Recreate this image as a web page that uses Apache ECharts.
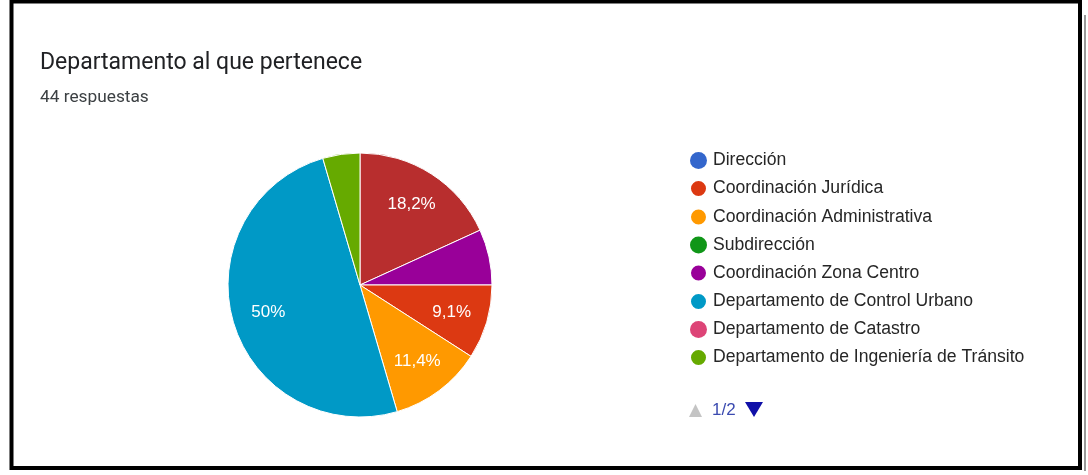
<!DOCTYPE html>
<html>
<head>
<meta charset="utf-8">
<script src="https://cdn.jsdelivr.net/npm/echarts@6/dist/echarts.min.js"></script>
<style>
  html, body { margin: 0; padding: 0; background: #fff; }
  #chart { width: 1088px; height: 475px; }
</style>
</head>
<body>
<div id="chart"></div>
<script>
// ---- data (legend order) ----
const categories = [
  'Dirección',
  'Coordinación Jurídica',
  'Coordinación Administrativa',
  'Subdirección',
  'Coordinación Zona Centro',
  'Departamento de Control Urbano',
  'Departamento de Catastro',
  'Departamento de Ingeniería de Tránsito',
  'Otro'
];
const counts = [0, 4, 5, 0, 3, 22, 0, 2, 8];
const colors = ['#3366cc', '#dc3912', '#ff9900', '#109618', '#990099', '#0099c6', '#dd4477', '#66aa00', '#b82e2e'];
// order in which the slices appear clockwise from 12 o'clock
const sliceOrder = [8, 4, 1, 2, 5, 7, 0, 3, 6];
const titleText = 'Departamento al que pertenece';
const itemsPerPage = 8;

const total = counts.reduce((a, b) => a + b, 0);
const pageCount = Math.ceil(categories.length / itemsPerPage);

function pctLabel(v) {
  let s = (v / total * 100).toFixed(1);
  if (s.endsWith('.0')) s = s.slice(0, -2);
  return s.replace('.', ',') + '%';
}

const mainData = sliceOrder.map(i => ({
  name: categories[i],
  value: counts[i],
  itemStyle: { color: colors[i], borderWidth: counts[i] > 0 ? 1 : 0 }
}));
const labelData = sliceOrder.map(i => ({
  name: categories[i],
  value: counts[i],
  label: { show: counts[i] / total > 0.07 }
}));

const FONT = 'Liberation Sans, Arial, sans-serif';

const chart = echarts.init(document.getElementById('chart'), null, { renderer: 'canvas' });
chart.setOption({
  animation: false,
  backgroundColor: '#fff',
  title: [
    {
      text: titleText, left: 40, top: 52, padding: 0,
      textStyle: { fontFamily: 'Roboto', fontSize: 23, fontWeight: 'normal', color: '#202124' }
    },
    {
      text: total + ' respuestas', left: 40, top: 89, padding: 0,
      textStyle: { fontFamily: 'Roboto', fontSize: 17.3, fontWeight: 'normal', color: '#3c4043' }
    }
  ],
  legend: {
    type: 'plain',
    orient: 'vertical',
    left: 689,
    top: 151.5,
    padding: 0,
    data: categories.slice(0, itemsPerPage),
    icon: 'circle',
    itemWidth: 17,
    itemHeight: 17,
    itemGap: 9.5,
    selectedMode: false,
    textStyle: {
      fontFamily: FONT,
      fontSize: 17.6,
      color: '#262626',
      padding: [0, 0, 0, 1]
    }
  },
  series: [
    {
      type: 'pie',
      center: [360, 285],
      radius: [0, 132],
      startAngle: 90,
      clockwise: true,
      avoidLabelOverlap: false,
      label: { show: false },
      labelLine: { show: false },
      itemStyle: { borderColor: '#fff' },
      emphasis: { disabled: true },
      data: mainData
    },
    {
      type: 'pie',
      center: [360, 285],
      radius: [53, 132],
      startAngle: 90,
      clockwise: true,
      silent: true,
      avoidLabelOverlap: false,
      itemStyle: { color: 'rgba(0,0,0,0)', borderWidth: 0 },
      label: {
        position: 'inside',
        color: '#fff',
        fontSize: 17,
        fontFamily: FONT,
        formatter: p => pctLabel(p.value)
      },
      labelLine: { show: false },
      emphasis: { disabled: true },
      data: labelData
    }
  ],
  graphic: [
    // legend pager
    {
      type: 'polygon',
      shape: { points: [[689, 417], [702, 417], [695.5, 404]] },
      style: { fill: '#c4c4c4' },
      silent: true
    },
    {
      type: 'text',
      x: 712, y: 410,
      style: {
        text: '1/' + pageCount, fill: '#3b4bb0', font: '17px ' + FONT,
        textVerticalAlign: 'middle', verticalAlign: 'middle'
      },
      silent: true
    },
    {
      type: 'polygon',
      shape: { points: [[745, 402], [763, 402], [754, 417]] },
      style: { fill: '#1010a8' },
      silent: true
    },
    // frame
    {
      type: 'rect',
      shape: { x: 11.5, y: 1.5, width: 1068.5, height: 466.5 },
      style: { fill: 'none', stroke: '#000', lineWidth: 4 },
      silent: true
    },
    {
      type: 'line',
      shape: { x1: 1085, y1: 15, x2: 1085, y2: 471 },
      style: { stroke: '#9a9a9a', lineWidth: 2 },
      silent: true
    }
  ]
});
</script>
</body>
</html>
